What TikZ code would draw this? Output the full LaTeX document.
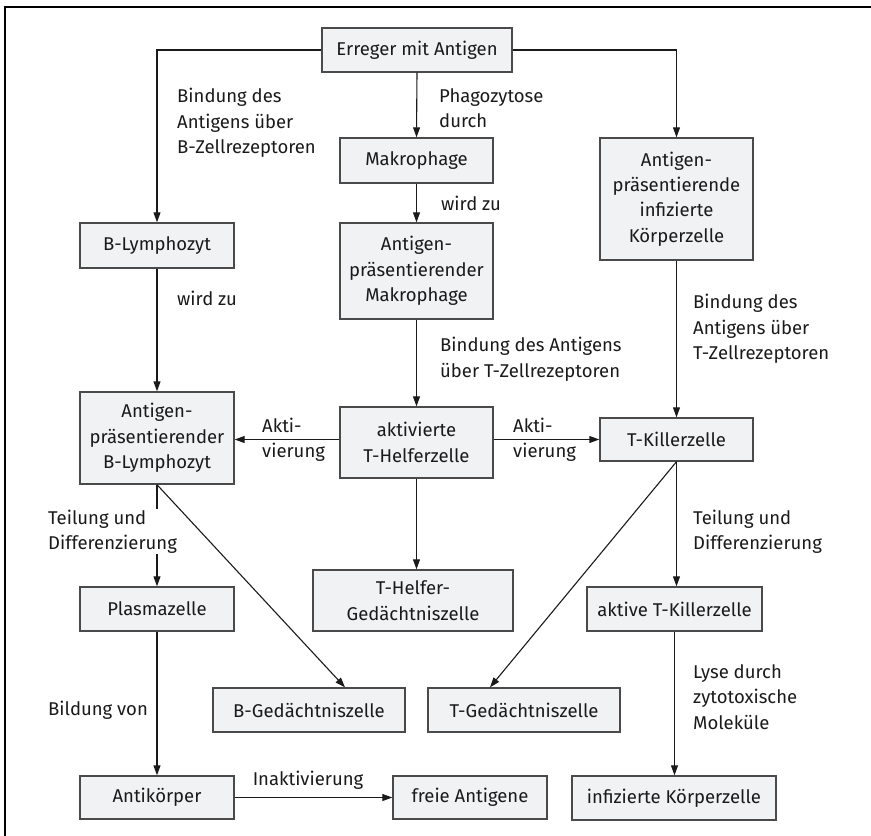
\documentclass[tikz,border=0pt]{standalone}
\usepackage{fontspec}
\setmainfont{Fira Sans}
\usetikzlibrary{arrows.meta}
\definecolor{boxfill}{HTML}{F1F2F4}
\definecolor{boxline}{HTML}{4A4A4A}
\definecolor{ink}{HTML}{1A1A1A}
\tikzset{
  box/.style={draw=boxline, line width=1.4pt, fill=boxfill, text=ink, align=center,
    inner sep=0pt, font=\fontsize{18.5}{25.5}\selectfont},
  lbl/.style={text=ink, align=left, inner sep=0pt, anchor=west,
    font=\fontsize{18.5}{25.5}\selectfont},
  arr/.style={draw=ink, line width=1.1pt, -{Triangle[length=10pt,width=7pt]}},
  frame/.style={draw=black, line width=1.4pt}
}
\begin{document}
\begin{tikzpicture}[x=1pt,y=-1pt]
\useasboundingbox (0,0) rectangle (871,836);
\coordinate (ftl) at (5,7);
\coordinate (ftr) at (871,7);
\coordinate (fbl) at (5,836);
\draw[frame] (ftr) -- (ftl) -- (fbl);

% boxes
\node[box, minimum width=190, minimum height=44] (erreger) at (417,50) {Erreger mit Antigen};
\node[box, minimum width=153, minimum height=45] (makro) at (416.5,160.5) {Makrophage};
\node[box, minimum width=153, minimum height=122] (aik) at (676.5,199) {Antigen-\\präsentierende\\infizierte\\Körperzelle};
\node[box, minimum width=154, minimum height=45] (blym) at (157,245.5) {B-Lymphozyt};
\node[box, minimum width=153, minimum height=96] (apm) at (416.5,271) {Antigen-\\präsentierender\\Makrophage};
\node[box, minimum width=154, minimum height=92] (apb) at (157,438) {Antigen-\\präsentierender\\B-Lymphozyt};
\node[box, minimum width=153, minimum height=71] (th) at (416.5,442.5) {aktivierte\\T-Helferzelle};
\node[box, minimum width=153, minimum height=43] (tk) at (676.5,439.5) {T-Killerzelle};
\node[box, minimum width=154, minimum height=44] (plasma) at (157,609) {Plasmazelle};
\node[box, minimum width=200, minimum height=61] (thg) at (413,600.5) {T-Helfer-\\Gedächtniszelle};
\node[box, minimum width=175, minimum height=44] (atk) at (674.5,609) {aktive T-Killerzelle};
\node[box, minimum width=192, minimum height=44] (bg) at (309,710) {B-Gedächtniszelle};
\node[box, minimum width=192, minimum height=44] (tg) at (524,710) {T-Gedächtniszelle};
\node[box, minimum width=154, minimum height=43] (ak) at (157,797.5) {Antikörper};
\node[box, minimum width=154, minimum height=43] (fa) at (470,797.5) {freie Antigene};
\node[box, minimum width=204, minimum height=44] (ik) at (674,798) {infizierte Körperzelle};

% connectors
\draw[arr] (erreger.west) -| (blym.north);
\draw[arr] (erreger.east) -| (aik.north);
\draw[arr] (erreger.south) -- (makro.north);
\draw[arr] (makro.south) -- (apm.north);
\draw[arr] (apm.south) -- (th.north);
\draw[arr] (blym.south) -- (apb.north);
\draw[arr] (aik.south) -- (tk.north);
\draw[arr] (th.west |- tk.west) -- (apb.east |- tk.west);
\draw[arr] (th.east |- tk.west) -- (tk.west);
\draw[arr] (apb.south) -- (plasma.north);
\draw[arr] (apb.south) -- ([xshift=36pt]bg.north);
\draw[arr] (th.south) -- (th.south |- thg.north);
\draw[arr] (tk.south) -- ([xshift=-34pt]tg.north);
\draw[arr] (tk.south) -- (tk.south |- atk.north);
\draw[arr] (plasma.south) -- (ak.north);
\draw[arr] (ak.east |- fa.west) -- (fa.west);
\draw[arr] (atk.south) -- (atk.south |- ik.north);

% labels
\node[lbl] (l1) at (177,123) {Bindung des\\Antigens über\\B-Zellrezeptoren};
\node[lbl] (l2) at (439,108) {Phagozytose\\durch};
\node[lbl] (l3) at (441,203) {wird zu};
\node[lbl] (l4) at (177,298) {wird zu};
\node[lbl] (l5) at (440,359) {Bindung des Antigens\\über T-Zellrezeptoren};
\node[lbl] (l6) at (693,329) {Bindung des\\Antigens über\\T-Zellrezeptoren};
\node[lbl] (l7) at (262,439.5) {Akti-\\vierung};
\node[lbl] (l8) at (513,439.5) {Akti-\\vierung};
\node[lbl, fill=white, inner sep=1pt] (l9) at (47,531.5) {Teilung und\\Differenzierung};
\node[lbl] (l10) at (693,531.5) {Teilung und\\Differenzierung};
\node[lbl] (l11) at (48,710) {Bildung von};
\node[lbl, anchor=center] (l12) at (308,780) {Inaktivierung};
\node[lbl] (l13) at (693,697) {Lyse durch\\zytotoxische\\Moleküle};
\end{tikzpicture}
\end{document}
